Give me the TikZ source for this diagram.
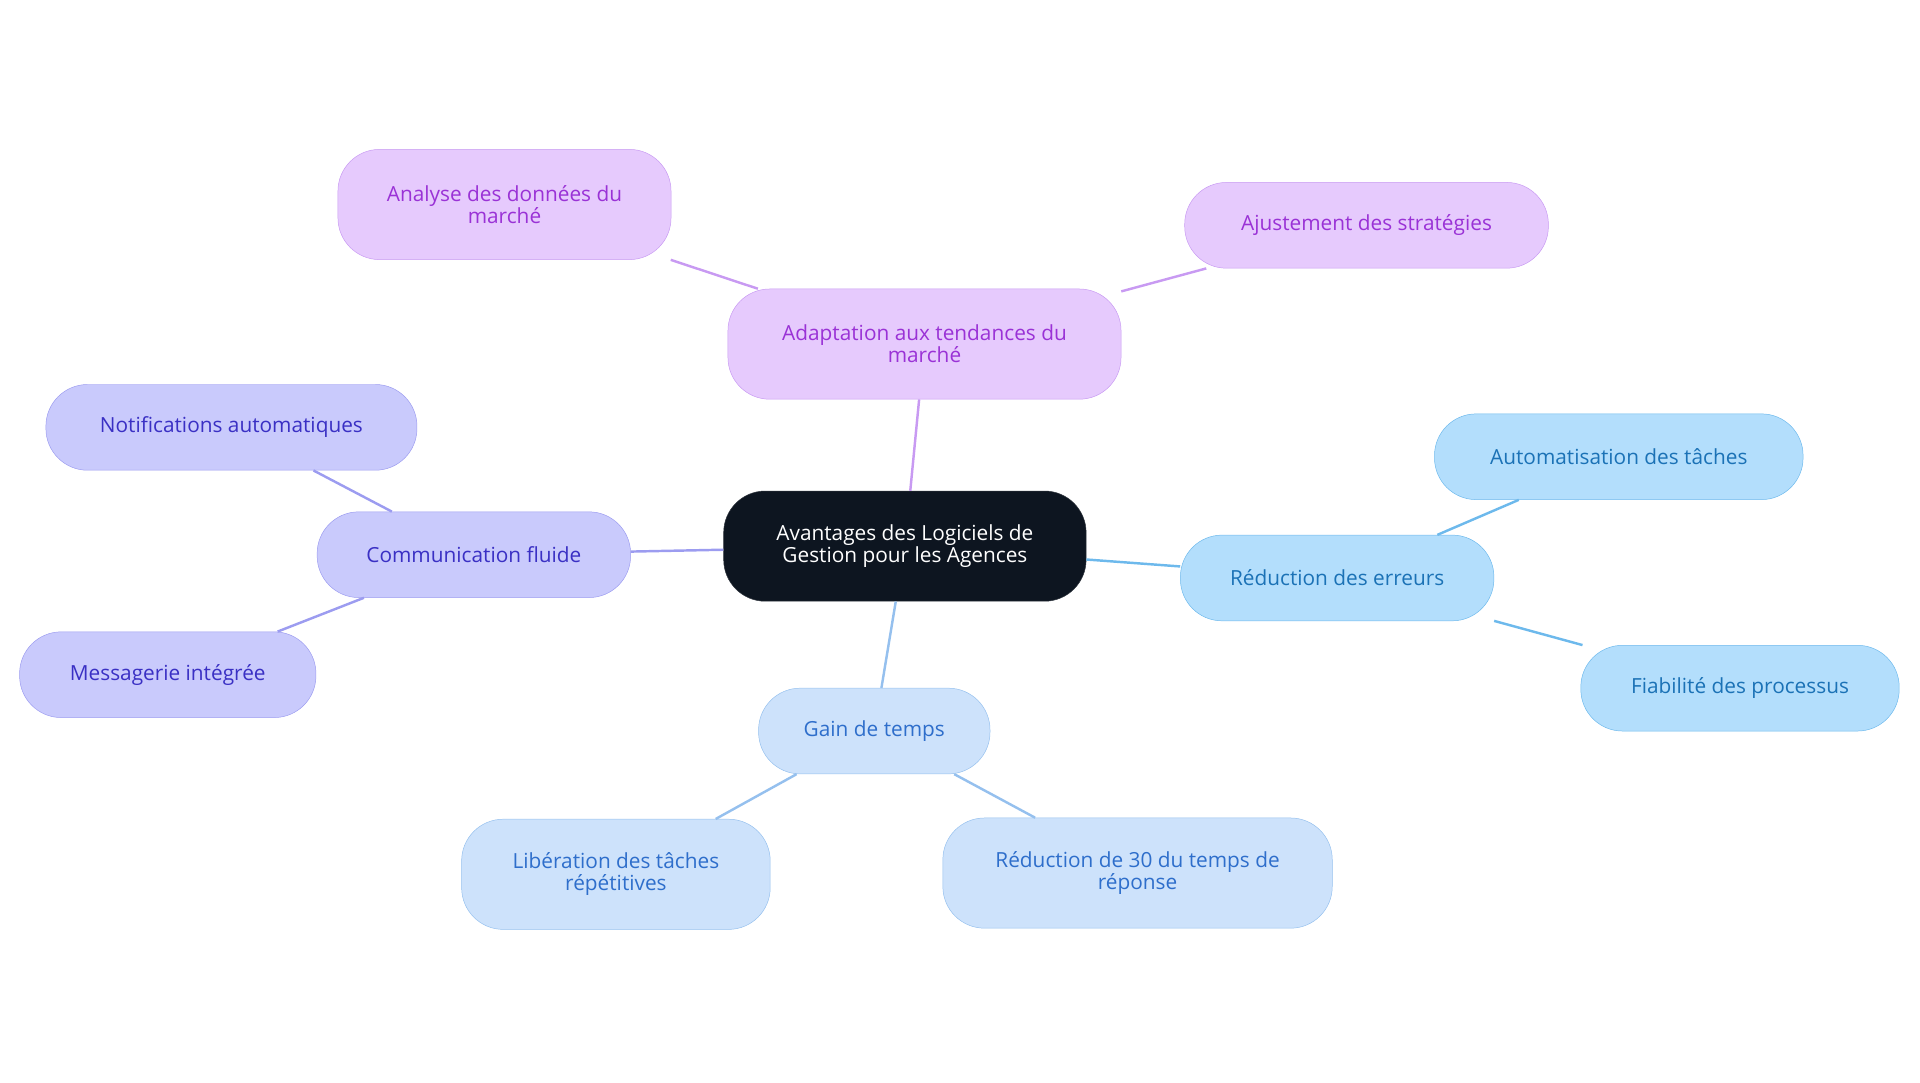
\documentclass[tikz,border=0pt]{standalone}
\usepackage{fontspec}
\setmainfont{Open Sans}
\definecolor{rootfill}{HTML}{0D1520}
\definecolor{pfill}{HTML}{E6CAFD}\definecolor{pline}{HTML}{C89AF2}\definecolor{ptext}{HTML}{9A32D6}
\definecolor{ifill}{HTML}{C9CAFC}\definecolor{iline}{HTML}{9C9CF0}\definecolor{itext}{HTML}{3A30C4}
\definecolor{cfill}{HTML}{B3DEFC}\definecolor{cline}{HTML}{6DB9EC}\definecolor{ctext}{HTML}{1B72B6}
\definecolor{bfill}{HTML}{CDE2FB}\definecolor{bline}{HTML}{95C0EE}\definecolor{btext}{HTML}{2E6ECB}
\tikzset{
    box/.style = {
        draw, rounded corners=34pt, align=center, font=\fontsize{17}{18}\selectfont,
        inner sep=0pt,
        },
    root/.style = {
        box, fill=rootfill, draw=rootfill!70!gray, text=white,
        },
    purple node/.style = {box, fill=pfill, draw=pline, text=ptext},
    indigo node/.style = {box, fill=ifill, draw=iline, text=itext},
    cyan node/.style = {box, fill=cfill, draw=cline, text=ctext},
    blue node/.style = {box, fill=bfill, draw=bline, text=btext},
}
\begin{document}
\begin{tikzpicture}[x=1pt,y=-1pt]
    \useasboundingbox (0,0) rectangle (1568,884);
    \node[root, minimum width=296pt, minimum height=90pt] (root) at (739,446) {Avantages des Logiciels de\\Gestion pour les Agences};

    \node[purple node, minimum width=321pt, minimum height=90pt] (adapt) at (755,281) {Adaptation aux tendances du\\march\'e};
    \node[purple node, minimum width=272pt, minimum height=90pt] (analyse) at (412,167) {Analyse des donn\'ees du\\march\'e};
    \node[purple node, minimum width=297pt, minimum height=70pt] (ajust) at (1116,184) {Ajustement des strat\'egies};

    \node[indigo node, minimum width=256pt, minimum height=70pt] (comm) at (387,453) {Communication fluide};
    \node[indigo node, minimum width=303pt, minimum height=70pt] (notif) at (189,349) {Notifications automatiques};
    \node[indigo node, minimum width=242pt, minimum height=70pt] (messag) at (137,551) {Messagerie int\'egr\'ee};

    \node[cyan node, minimum width=256pt, minimum height=70pt] (erreurs) at (1092,472) {R\'eduction des erreurs};
    \node[cyan node, minimum width=301pt, minimum height=70pt] (automat) at (1322,373) {Automatisation des t\^aches};
    \node[cyan node, minimum width=260pt, minimum height=70pt] (fiabil) at (1421,562) {Fiabilit\'e des processus};

    \node[blue node, minimum width=189pt, minimum height=70pt] (gain) at (714,597) {Gain de temps};
    \node[blue node, minimum width=252pt, minimum height=90pt] (liber) at (503,714) {Lib\'eration des t\^aches\\r\'ep\'etitives};
    \node[blue node, minimum width=318pt, minimum height=90pt] (reduc) at (929,713) {R\'eduction de 30 du temps de\\r\'eponse};

    \begin{scope}[on background layer/.try, line width=2pt]
        \draw[pline] (root) -- (adapt);
        \draw[pline] (adapt) -- (analyse);
        \draw[pline] (adapt) -- (ajust);
        \draw[iline] (root) -- (comm);
        \draw[iline] (comm) -- (notif);
        \draw[iline] (comm) -- (messag);
        \draw[cline] (root) -- (erreurs);
        \draw[cline] (erreurs) -- (automat);
        \draw[cline] (erreurs) -- (fiabil);
        \draw[bline] (root) -- (gain);
        \draw[bline] (gain) -- (liber);
        \draw[bline] (gain) -- (reduc);
    \end{scope}
\end{tikzpicture}
\end{document}
